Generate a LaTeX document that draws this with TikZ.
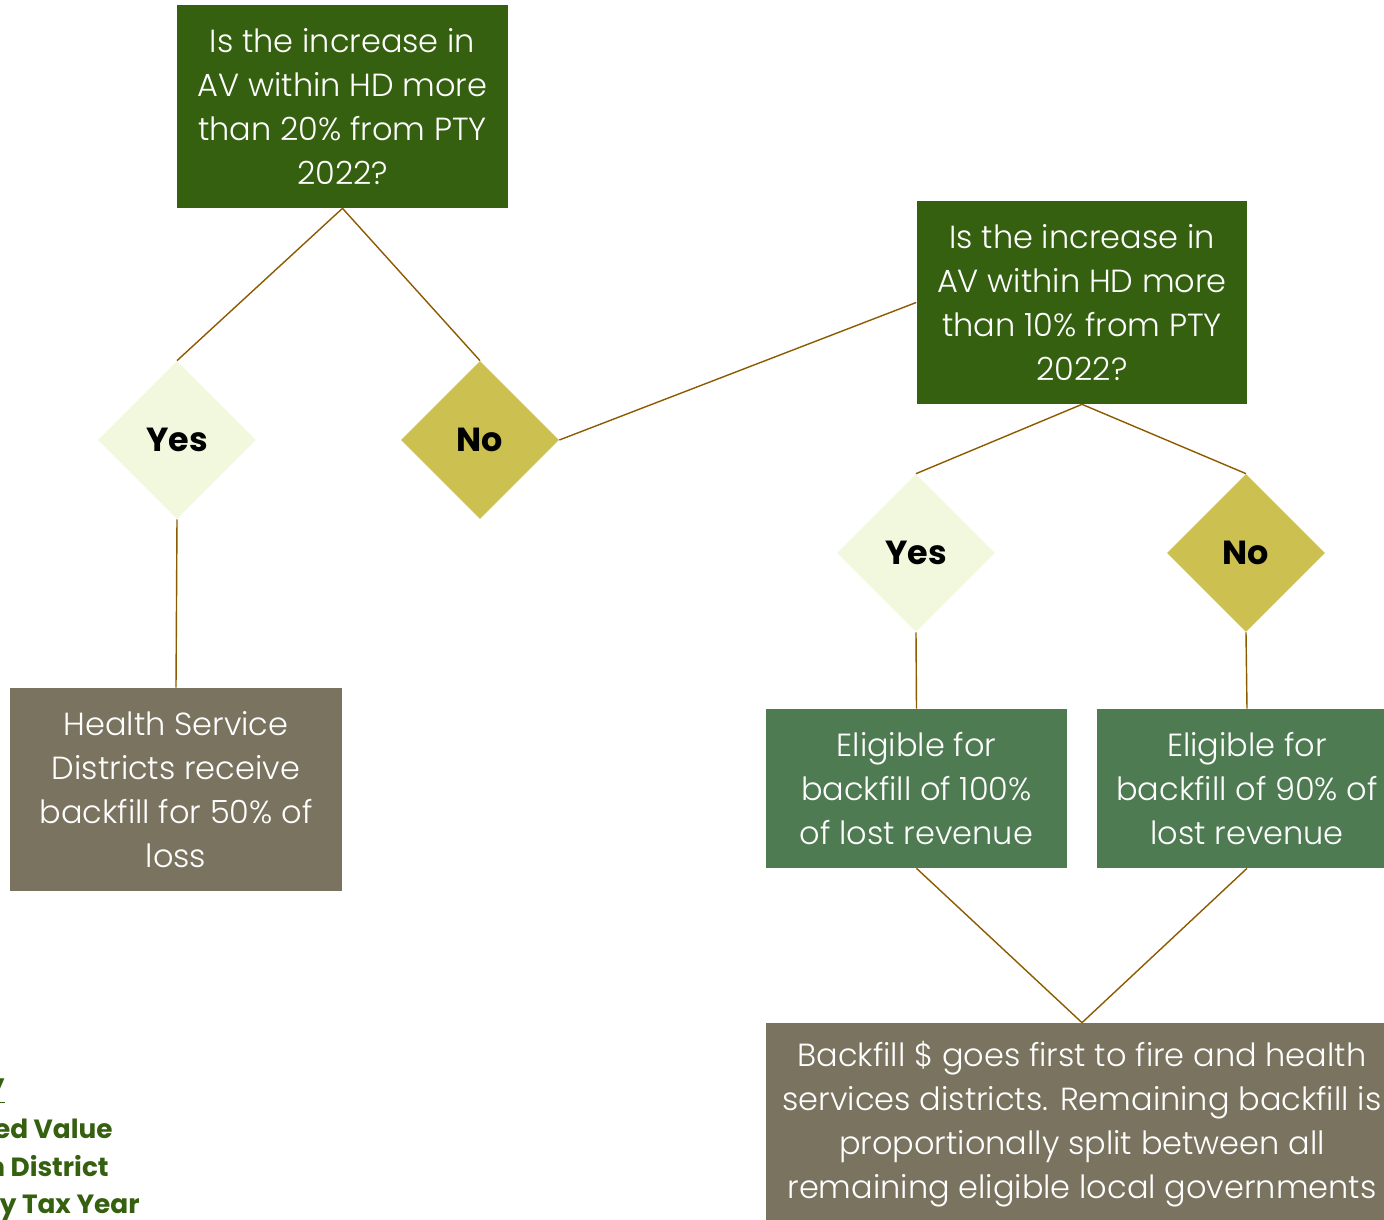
\documentclass[tikz,border=0pt]{standalone}
\usepackage{fontspec}
\setmainfont{Poppins}[UprightFont=* Light, BoldFont=* Bold]
\usepackage{xcolor}
\usetikzlibrary{shapes.geometric}

\definecolor{qgreen}{HTML}{356010}
\definecolor{elgreen}{HTML}{4E7B52}
\definecolor{yesfill}{HTML}{F2F8DD}
\definecolor{nofill}{HTML}{CCC050}
\definecolor{taupe}{HTML}{7A7360}
\definecolor{linkbrown}{HTML}{8C5A00}

\begin{document}
\begin{tikzpicture}[x=0.02cm, y=-0.02cm,
    question/.style={rectangle, fill=qgreen, text=white, align=center,
      minimum width=6.62cm, minimum height=4.06cm, inner sep=0pt,
      font=\fontsize{18.2}{25}\selectfont},
    outcome/.style={rectangle, fill=elgreen, text=white, align=center,
      minimum width=6.02cm, minimum height=3.18cm, inner sep=0pt,
      font=\fontsize{18.2}{25}\selectfont},
    result/.style={rectangle, fill=taupe, text=white, align=center,
      inner sep=0pt, font=\fontsize{18.2}{25}\selectfont},
    yesbox/.style={diamond, fill=yesfill, minimum width=3.16cm,
      minimum height=3.16cm, inner sep=0pt, font=\fontsize{19}{24}\bfseries},
    nobox/.style={yesbox, fill=nofill},
    link/.style={draw=linkbrown, line width=0.8pt},
    keytext/.style={anchor=base east, text=qgreen, inner sep=0pt,
      font=\fontsize{15}{19}\bfseries}]
  \useasboundingbox (0,0) rectangle (1384,1220);
  \clip (0,0) rectangle (1384,1220);

  % First question and its answers
  \node[question] (q20) at (342.5,106.5)
    {Is the increase in\\AV within HD more\\than 20\% from PTY\\2022?};
  \node[yesbox] (yes20) at (177,440) {Yes};
  \node[nobox] (no20) at (480,440) {No};
  \node[result, minimum width=6.64cm, minimum height=4.06cm] (half) at (176,789.5)
    {Health Service\\Districts receive\\backfill for 50\% of\\loss};

  % Second question and its answers
  \node[question] (q10) at (1082,302.5)
    {Is the increase in\\AV within HD more\\than 10\% from PTY\\2022?};
  \node[yesbox] (yes10) at (916,553) {Yes};
  \node[nobox] (no10) at (1246,553) {No};
  \node[outcome] (full) at (916.5,788.5)
    {Eligible for\\backfill of 100\%\\of lost revenue};
  \node[outcome] (ninety) at (1247,788.5)
    {Eligible for\\backfill of 90\% of\\lost revenue};
  \node[result, minimum width=12.64cm, minimum height=4.04cm] (split) at (1082,1124)
    {Backfill \$ goes first to fire and health\\services districts. Remaining backfill is\\
     proportionally split between all\\remaining eligible local governments};

  % Connectors
  \draw[link] (q20.south) -- (yes20.north);
  \draw[link] (q20.south) -- (no20.north);
  \draw[link] (yes20.south) -- (half.north);
  \draw[link] (no20.east) -- (q10.west);
  \draw[link] (q10.south) -- (yes10.north);
  \draw[link] (q10.south) -- (no10.north);
  \draw[link] (yes10.south) -- (full.north);
  \draw[link] (no10.south) -- (ninety.north);
  \draw[link] (full.south) -- (split.north);
  \draw[link] (ninety.south) -- (split.north);

  % Key (cut off at the left edge)
  \node[keytext] (keyhead) at (5,1093) {\underline{Key}};
  \node[keytext] (keyav) at (113,1138) {AV = Assessed Value};
  \node[keytext] (keyhd) at (109,1176) {HD = Health District};
  \node[keytext] (keypty) at (140,1213) {PTY = Property Tax Year};
\end{tikzpicture}
\end{document}
